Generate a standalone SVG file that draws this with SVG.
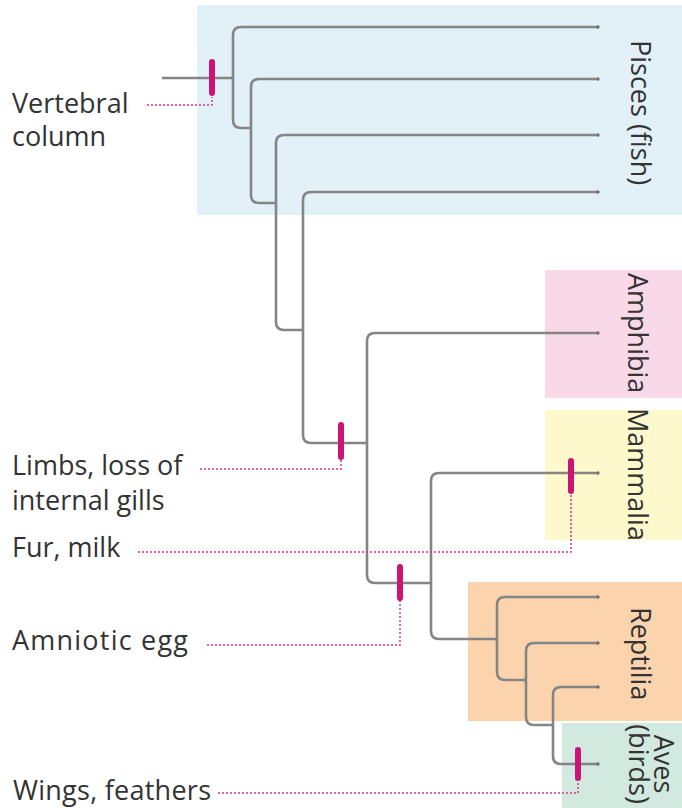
<svg xmlns="http://www.w3.org/2000/svg" width="682" height="808" viewBox="0 0 682 808">
<style>
.box{stroke:none}
.br{fill:none;stroke:#858585;stroke-width:2.6;stroke-linecap:butt}
.dot{fill:none;stroke:#d9348a;stroke-width:1.5;stroke-dasharray:2 2}
.bar{stroke:#cc1477;stroke-width:6;stroke-linecap:round}
.lbl{font-family:"Open Sans","Liberation Sans",sans-serif;font-size:27px;fill:#333}
.mid{text-anchor:middle}
</style>
<defs>
<marker id="tip" viewBox="0 0 6 6" refX="3" refY="3" markerWidth="4" markerHeight="4" markerUnits="userSpaceOnUse"><circle cx="3" cy="3" r="2.5" fill="#6f6f6f"/></marker>
</defs>
<g id="pisces"><rect class="box" x="197" y="5" width="485" height="210" fill="#e2f0f8"/><text class="lbl" transform="translate(631,40) rotate(90)">Pisces (fish)</text></g>
<g id="amphibia"><rect class="box" x="545" y="270" width="137" height="128" fill="#f9d9e8"/><text class="lbl" transform="translate(628,273) rotate(90)">Amphibia</text></g>
<g id="mammalia"><rect class="box" x="545" y="410" width="137" height="130" fill="#fdf9cc"/><text class="lbl" transform="translate(628,408) rotate(90)">Mammalia</text></g>
<g id="reptilia"><rect class="box" x="468" y="582" width="214" height="139" fill="#fbd4ad"/><text class="lbl" transform="translate(631,607) rotate(90)">Reptilia</text></g>
<g id="aves"><rect class="box" x="562" y="723" width="120" height="85" fill="#d2e9df"/><text class="lbl mid" transform="translate(654,764) rotate(90)">Aves</text><text class="lbl mid" transform="translate(629,764) rotate(90)">(birds)</text></g>
<g id="connectors">
<path class="br" d="M162,78 H233"/>
<path class="br" marker-start="url(#tip)" d="M598,27 H241 Q233,27 233,35 V120 Q233,128 241,128 H251"/>
<path class="br" marker-start="url(#tip)" d="M598,79 H259 Q251,79 251,87 V195 Q251,203 259,203 H276"/>
<path class="br" marker-start="url(#tip)" d="M598,135 H284 Q276,135 276,143 V322 Q276,330 284,330 H303"/>
<path class="br" marker-start="url(#tip)" d="M598,192 H311 Q303,192 303,200 V435 Q303,443 311,443 H367"/>
<path class="br" marker-start="url(#tip)" d="M598,333 H375 Q367,333 367,341 V575 Q367,583 375,583 H431"/>
<path class="br" marker-start="url(#tip)" d="M598,473 H439 Q431,473 431,481 V631 Q431,639 439,639 H497"/>
<path class="br" marker-start="url(#tip)" d="M598,597 H505 Q497,597 497,605 V672 Q497,680 505,680 H526"/>
<path class="br" marker-start="url(#tip)" d="M598,643 H534 Q526,643 526,651 V717 Q526,725 534,725 H553"/>
<path class="br" marker-start="url(#tip)" marker-end="url(#tip)" d="M598,687 H561 Q553,687 553,695 V756 Q553,764 561,764 H598"/>
<path class="dot" d="M147,105 H212 V97"/>
<path class="dot" d="M200,469 H341 V460"/>
<path class="dot" d="M138,552 H571 V494"/>
<path class="dot" d="M207,645 H400 V601"/>
<path class="dot" d="M218,793 H578 V781"/>
<line class="bar" x1="212" y1="62" x2="212" y2="93"/>
<line class="bar" x1="341" y1="425" x2="341" y2="457"/>
<line class="bar" x1="571" y1="461" x2="571" y2="491"/>
<line class="bar" x1="400" y1="567" x2="400" y2="598"/>
<line class="bar" x1="578" y1="750" x2="578" y2="778"/>
</g>
<g id="labels">
<text class="lbl" x="12" y="113">Vertebral</text>
<text class="lbl" x="12" y="146">column</text>
<text class="lbl" x="12" y="475">Limbs, loss of</text>
<text class="lbl" x="12" y="510">internal gills</text>
<text class="lbl" x="12" y="557">Fur, milk</text>
<text class="lbl" x="12" y="650" textLength="176" lengthAdjust="spacing">Amniotic egg</text>
<text class="lbl" x="13" y="800" textLength="198" lengthAdjust="spacing">Wings, feathers</text>
</g>
</svg>
